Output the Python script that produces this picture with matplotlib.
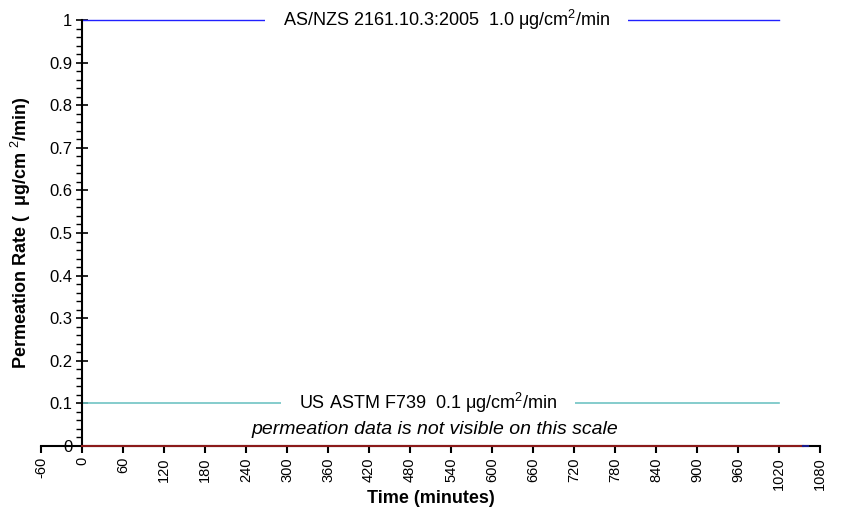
import numpy as np
import matplotlib.pyplot as plt
from matplotlib.ticker import MultipleLocator

plt.rcParams['font.family'] = ['Liberation Sans', 'DejaVu Sans']
plt.rcParams['mathtext.fontset'] = 'custom'
plt.rcParams['mathtext.rm'] = 'Liberation Sans'
plt.rcParams['mathtext.it'] = 'Liberation Sans:italic'
plt.rcParams['mathtext.bf'] = 'Liberation Sans:bold'

# standard limits (minutes, ug/cm2/min)
std_time = [0, 1020]
asnzs_rate = [1.0, 1.0]
astm_rate = [0.1, 0.1]
# measured permeation (all zero at this scale)
perm_time = [0, 60, 120, 240, 360, 480, 600, 720, 840, 960, 1055]
perm_rate = [0, 0, 0, 0, 0, 0, 0, 0, 0, 0, 0]
tail_time = [1055, 1063]
tail_rate = [0, 0]

xticks = list(range(-60, 1081, 60))
yticks = [0, 0.1, 0.2, 0.3, 0.4, 0.5, 0.6, 0.7, 0.8, 0.9, 1]
ylabels = ['0', '0.1', '0.2', '0.3', '0.4', '0.5', '0.6', '0.7', '0.8', '0.9', '1']

fig = plt.figure(figsize=(8.41, 5.18), dpi=100)
ax = fig.add_axes([41/841, 72/518, 779/841, 426/518])

ax.plot(std_time, asnzs_rate, color='#2020ff', lw=1, clip_on=False, zorder=2)
ax.plot(std_time, astm_rate, color='#70c4c4', lw=1.2, clip_on=False, zorder=2)
ax.plot(perm_time, perm_rate, color='#8b1a1a', lw=1.5, clip_on=False, zorder=3)
ax.plot(tail_time, tail_rate, color='#1a1a8b', lw=1.5, clip_on=False, zorder=3)

ax.set_xlim(-60, 1080)
ax.set_ylim(0, 1)

ax.spines['left'].set_position(('data', 0))
ax.spines['bottom'].set_position(('data', 0))
ax.spines['top'].set_visible(False)
ax.spines['right'].set_visible(False)
ax.spines['left'].set_linewidth(1.5)
ax.spines['bottom'].set_linewidth(1.5)

ax.set_xticks(xticks)
ax.set_xticklabels([str(t) for t in xticks], rotation=90, fontsize=10.5)
ax.set_yticks(yticks)
ax.set_yticklabels(ylabels, fontsize=12)
ax.yaxis.set_minor_locator(MultipleLocator(0.02))
ax.tick_params(axis='x', direction='out', length=5, width=1.5, pad=3)
ax.tick_params(axis='y', which='major', direction='inout', length=8, width=1.2, pad=3)
ax.tick_params(axis='y', which='minor', direction='out', length=4, width=1)

ax.text(534, 1.0, 'AS/NZS 2161.10.3:2005  1.0 μg/cm$^2$/min', fontsize=13,
        ha='center', va='center', zorder=4,
        bbox=dict(boxstyle='square,pad=1.0', fc='white', ec='none'))
ax.text(506, 0.1, 'US ASTM F739  0.1 μg/cm$^2$/min', fontsize=13,
        ha='center', va='center', zorder=4,
        bbox=dict(boxstyle='square,pad=1.0', fc='white', ec='none'))
ax.text(517, 0.038, 'permeation data is not visible on this scale', fontsize=14,
        style='italic', ha='center', va='center', zorder=4)

ax.set_xlabel('Time (minutes)', fontsize=13, fontweight='bold', labelpad=0)
ax.set_ylabel('Permeation Rate (  μg/cm $^2$/min)', fontsize=13,
              fontweight='bold')
ax.yaxis.set_label_coords(33/841, 1 - 233/518, transform=fig.transFigure)

fig.savefig('out.png', dpi=100)
